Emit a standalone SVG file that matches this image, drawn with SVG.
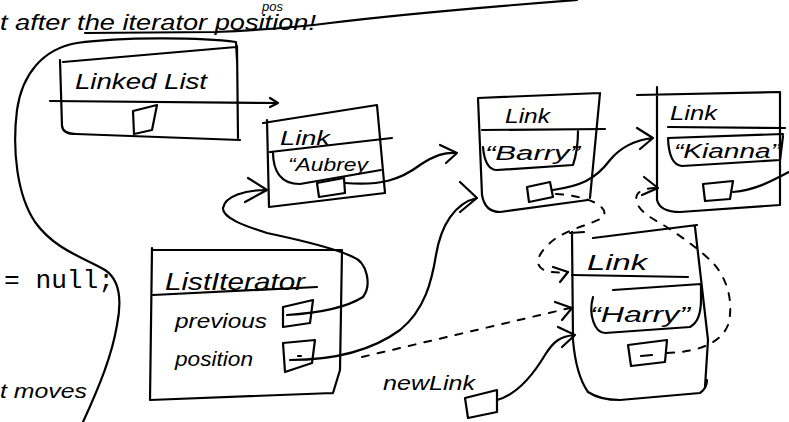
<svg xmlns="http://www.w3.org/2000/svg" width="789" height="422" viewBox="0 0 789 422">
<style>
.s{fill:none;stroke:#000;stroke-width:2.2;stroke-linecap:round;stroke-linejoin:round}
.d{fill:none;stroke:#000;stroke-width:2;stroke-linecap:round;stroke-dasharray:7 9}
.h{font-family:"Liberation Sans","DejaVu Sans",sans-serif;fill:#000;font-style:italic}
.m{font-family:"Liberation Mono","Courier New",monospace;fill:#000}
</style>
<rect width="789" height="422" fill="#fff"/>
<g id="annotations">
<text class="h" x="262" y="11" font-size="13">pos</text>
<text class="h" x="0" y="30" font-size="22" textLength="316" lengthAdjust="spacingAndGlyphs">t after the iterator position!</text>
<path class="s" d="M85,33 L215,32 C260,30 300,27 330,23 C420,12 500,6 577,0"/>
<path class="s" d="M237,60 L236,42 C200,37 120,37 77,43 C42,49 22,75 17,110 C12,150 17,195 35,222 C55,250 85,258 105,270 C120,280 122,300 117,325 C112,355 100,385 83,422"/>
<text class="m" x="4" y="288" font-size="25" textLength="110" lengthAdjust="spacingAndGlyphs">= null;</text>
<text class="h" x="0" y="398" font-size="20" textLength="87" lengthAdjust="spacingAndGlyphs">t moves</text>
</g>
<g id="linkedlist">
<path class="s" d="M63,62 L236,47 M60,60 L62,126 Q63,134 76,134 L240,140 M237,46 L238,138"/>
<text class="h" x="75" y="89" font-size="22" textLength="132" lengthAdjust="spacingAndGlyphs">Linked List</text>
<path class="s" d="M133,111 L157,105 L152,130 L134,134 Z"/>
</g>
<g id="link-aubrey">
<path class="s" d="M263,123 L377,105 M267,120 L269,207 L385,193 M377,105 L385,193"/>
<text class="h" x="280" y="145" font-size="20" textLength="50" lengthAdjust="spacingAndGlyphs">Link</text>
<path class="s" d="M270,152 L392,138 M273,152 C273,170 280,184 300,184 L381,170"/>
<text class="h" x="288" y="171" font-size="19" textLength="80" lengthAdjust="spacingAndGlyphs">“Aubrey</text>
<path class="s" d="M317,183 L344,178 L345,193 L319,197 Z"/>
</g>
<g id="link-barry">
<path class="s" d="M478,98 L600,93 M478,98 L482,195 Q485,212 500,212 L588,200 M600,93 L590,198"/>
<text class="h" x="505" y="123" font-size="20" textLength="45" lengthAdjust="spacingAndGlyphs">Link</text>
<path class="s" d="M482,130 L605,129 M483,147 Q485,170 497,170 L573,165 Q578,150 578,131"/>
<text class="h" x="485" y="160" font-size="20" textLength="95" lengthAdjust="spacingAndGlyphs">“Barry”</text>
<path class="s" d="M527,187 L550,182 L553,197 L529,202 Z"/>
</g>
<g id="link-kianna">
<path class="s" d="M637,95 L780,92 M657,87 L657,200 Q660,212 680,212 L780,205 M780,92 L780,205"/>
<text class="h" x="670" y="120" font-size="20" textLength="47" lengthAdjust="spacingAndGlyphs">Link</text>
<path class="s" d="M668,127 L785,128 M668,138 Q669,165 682,166 L780,160 L783,136 M668,138 L783,134"/>
<text class="h" x="674" y="158" font-size="20" textLength="106" lengthAdjust="spacingAndGlyphs">“Kianna”</text>
<path class="s" d="M703,184 L733,181 L730,199 L705,201 Z"/>
</g>
<g id="link-harry">
<path class="s" d="M570,233 L584,232 M593,238 L697,225 M572,232 L573,340 Q576,375 588,392 Q600,400 620,400 L700,393 Q707,388 707,380 M695,227 L708,340 L705,387"/>
<text class="h" x="587" y="270" font-size="22" textLength="60" lengthAdjust="spacingAndGlyphs">Link</text>
<path class="s" d="M572,275 L688,277 M613,290 L701,284 M593,297 C588,315 595,333 605,333 L690,327 Q701,321 701,300 L701,284"/>
<text class="h" x="590" y="322" font-size="22" textLength="100" lengthAdjust="spacingAndGlyphs">“Harry”</text>
<path class="s" d="M628,345 L667,340 L665,362 L631,366 Z M641,356 L652,355"/>
</g>
<g id="listiterator">
<path class="s" d="M153,250 L342,250 M152,248 L150,400 L333,393 M342,250 L340,370 L333,393"/>
<text class="h" x="165" y="290" font-size="24" textLength="140" lengthAdjust="spacingAndGlyphs">ListIterator</text>
<path class="s" d="M153,295 L317,287"/>
<text class="h" x="175" y="328" font-size="20" textLength="92" lengthAdjust="spacingAndGlyphs">previous</text>
<text class="h" x="175" y="366" font-size="20" textLength="78" lengthAdjust="spacingAndGlyphs">position</text>
<path class="s" d="M283,307 L313,300 L310,323 L283,327 Z"/>
<path class="s" d="M283,343 L315,340 L312,363 L285,372 Z M298,356 L301,356"/>
</g>
<g id="newlink">
<text class="h" x="383" y="390" font-size="20" textLength="92" lengthAdjust="spacingAndGlyphs">newLink</text>
<path class="s" d="M465,398 L497,390 L497,412 L468,418 Z"/>
</g>
<g id="connectors">
<path class="s" d="M50,101 L278,103 M270,98 L278,103 L270,107"/>
<path class="s" d="M287,315 C320,313 347,307 363,297 C372,285 367,262 353,257 C335,248 300,240 267,233 C245,226 222,218 223,208 C225,196 245,190 267,190 M248,178 L267,190 L245,202"/>
<path class="s" d="M345,183 C380,186 400,180 420,165 C435,155 445,152 457,153 M440,145 L457,153 L446,163"/>
<path class="s" d="M553,190 C580,186 595,180 610,160 C620,148 635,140 653,138 M637,128 L653,138 L640,149"/>
<path class="s" d="M733,192 C755,190 770,182 789,172"/>
<path class="s" d="M290,360 C330,360 370,352 400,330 C425,310 432,280 436,255 C441,225 455,203 477,198 M460,182 L477,198 L460,212"/>
<path class="d" d="M362,357 L570,308"/>
<path class="s" d="M555,302 L572,308 L562,320"/>
<path class="d" d="M556,194 C590,196 612,208 602,218 C588,226 560,230 545,248 C530,265 540,275 568,272"/>
<path class="s" d="M553,267 L568,272 L560,282"/>
<path class="d" d="M667,353 C695,352 720,345 728,325 C735,300 725,275 712,262 C700,250 680,235 660,223 C645,215 633,205 637,195 C640,189 650,188 658,188"/>
<path class="s" d="M644,177 L658,188 L642,195"/>
<path class="s" d="M497,400 C515,395 530,380 545,355 C553,342 560,336 575,335 M558,327 L575,335 L562,347"/>
</g>
</svg>
